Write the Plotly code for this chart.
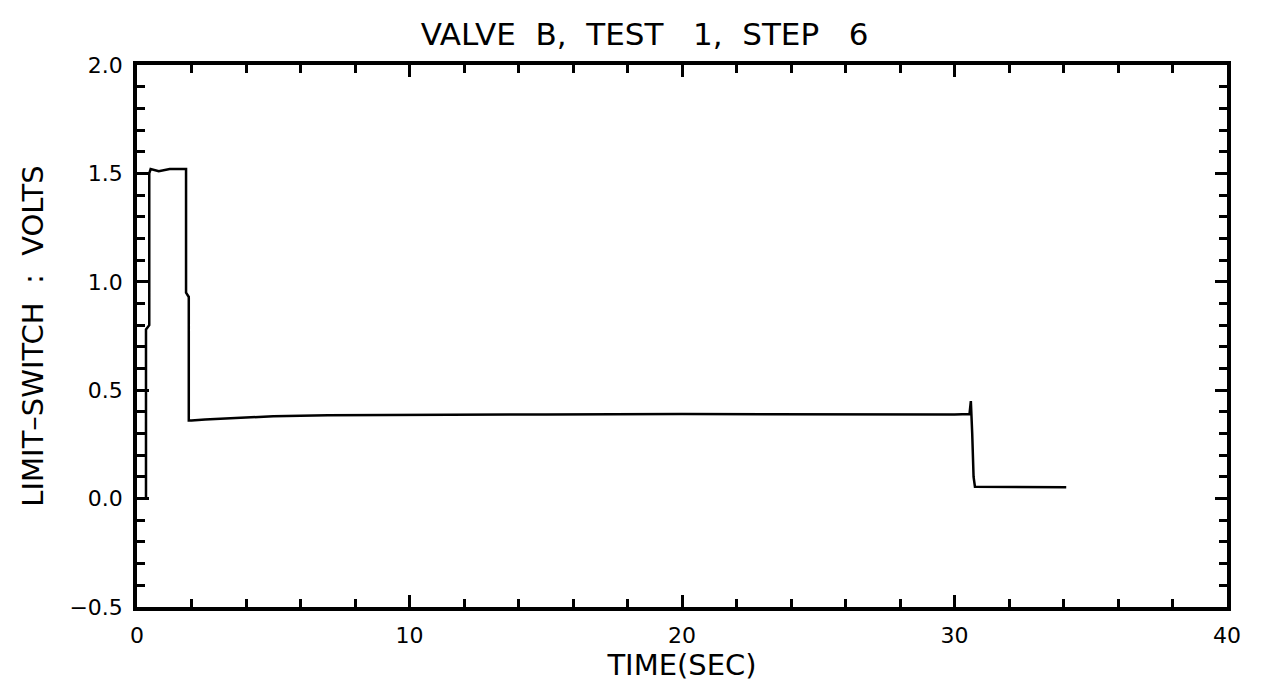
import plotly.graph_objects as go

# Limit-switch trace
time_sec = [0.3, 0.33, 0.33, 0.45, 0.45, 0.5, 0.8, 1.2, 1.6, 1.8, 1.8, 1.9, 1.9, 2.0, 2.5,
            3.5, 5.0, 7.0, 10.0, 15.0, 20.0, 25.0, 30.0, 30.55, 30.6, 30.65, 30.7,
            30.75, 31.0, 32.0, 33.0, 34.1]
volts = [0.0, 0.0, 0.78, 0.8, 1.5, 1.52, 1.51, 1.52, 1.52, 1.52, 0.95, 0.93, 0.36, 0.36, 0.365,
         0.37, 0.38, 0.385, 0.385, 0.388, 0.39, 0.388, 0.388, 0.39, 0.45, 0.3, 0.1,
         0.055, 0.055, 0.052, 0.055, 0.052]

x_ticks = [0, 10, 20, 30, 40]
y_ticks = [-0.5, 0.0, 0.5, 1.0, 1.5, 2.0]
y_tick_text = ["\u22120.5", "0.0", "0.5", "1.0", "1.5", "2.0"]

font_family = "DejaVu Sans"

fig = go.Figure()
fig.add_trace(go.Scatter(x=time_sec, y=volts, mode="lines",
                         line=dict(color="black", width=2.5), showlegend=False))

axis_common = dict(
    showgrid=False, zeroline=False, showline=True, linecolor="black", linewidth=3.5,
    mirror="allticks", ticks="inside", ticklen=12, tickwidth=3, tickcolor="black",
    tickfont=dict(family=font_family, size=22, color="black"),
    ticklabelstandoff=6,
)

fig.update_layout(
    width=1263, height=686,
    paper_bgcolor="white", plot_bgcolor="white",
    margin=dict(l=129, r=44, t=57, b=87),
    title=dict(text="VALVE  B,  TEST   1,  STEP   6", x=0.504, xanchor="center",
               y=0.962, yanchor="middle",
               font=dict(family=font_family, size=31, color="black")),
    xaxis=dict(range=[0, 40], tickvals=x_ticks, ticktext=[str(v) for v in x_ticks],
               title=dict(text="TIME(SEC)", standoff=0,
                          font=dict(family=font_family, size=29, color="black")),
               minor=dict(dtick=2, ticks="inside", ticklen=8, tickwidth=2.5,
                          tickcolor="black", showgrid=False),
               **axis_common),
    yaxis=dict(range=[-0.5, 2.0], tickvals=y_ticks, ticktext=y_tick_text,
               title=dict(text="LIMIT\u2013SWITCH  :  VOLTS", standoff=18,
                          font=dict(family=font_family, size=29, color="black")),
               minor=dict(dtick=0.1, tick0=0, ticks="inside", ticklen=8, tickwidth=2.5,
                          tickcolor="black", showgrid=False),
               **axis_common),
)

fig.write_html("out.html")
